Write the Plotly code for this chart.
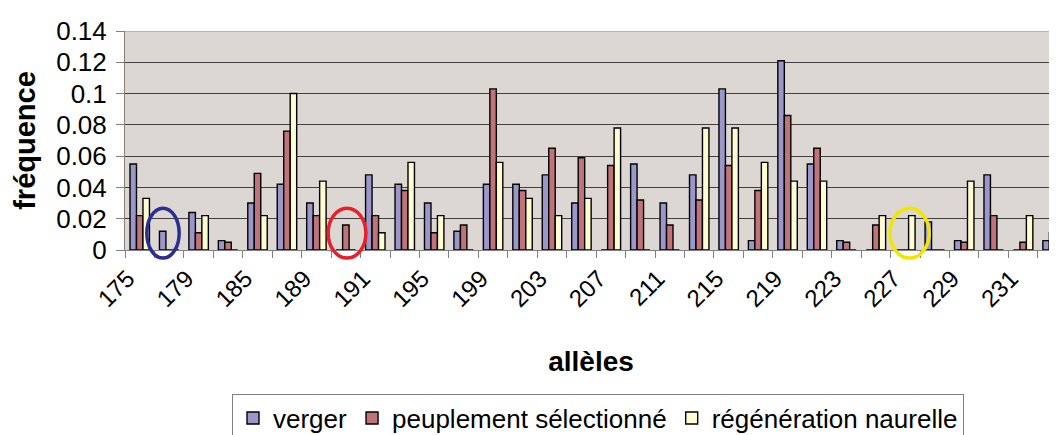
import plotly.graph_objects as go

alleles = ["175", "177", "179", "183", "185", "187", "189", "190", "191", "193",
           "195", "197", "199", "201", "203", "205", "207", "209", "211", "213",
           "215", "217", "219", "221", "223", "225", "227", "228", "229", "230",
           "231", "233"]

verger = [0.055, 0.012, 0.024, 0.006, 0.030, 0.042, 0.030, 0.0, 0.048, 0.042,
          0.030, 0.012, 0.042, 0.042, 0.048, 0.030, 0.0, 0.055, 0.030, 0.048,
          0.103, 0.006, 0.121, 0.055, 0.006, 0.0, 0.0, 0.018, 0.006, 0.048,
          0.0, 0.006]
peuplement = [0.022, 0.0, 0.011, 0.005, 0.049, 0.076, 0.022, 0.016, 0.022, 0.038,
              0.011, 0.016, 0.103, 0.038, 0.065, 0.059, 0.054, 0.032, 0.016, 0.032,
              0.054, 0.038, 0.086, 0.065, 0.005, 0.016, 0.0, 0.0, 0.005, 0.022,
              0.005, 0.011]
regeneration = [0.033, 0.0, 0.022, 0.0, 0.022, 0.100, 0.044, 0.0, 0.011, 0.056,
                0.022, 0.0, 0.056, 0.033, 0.022, 0.033, 0.078, 0.0, 0.0, 0.078,
                0.078, 0.056, 0.044, 0.044, 0.0, 0.022, 0.022, 0.0, 0.044, 0.0,
                0.022, 0.0]

# only every other allele gets a label
tick_text = [a if i % 2 == 0 else "" for i, a in enumerate(alleles)]

FONT = "Liberation Sans, Arial, sans-serif"

fig = go.Figure()
for name, vals, col in [("verger", verger, "#9b97cb"),
                        ("peuplement sélectionné", peuplement, "#c07379"),
                        ("régénération naurelle", regeneration, "#fffcd2")]:
    fig.add_trace(go.Bar(x=alleles, y=vals, name=name,
                         marker=dict(color=col, line=dict(color="black", width=1.4))))

# circled bars
for x0, x1, col in [(0.24, 1.34, "#2b2f8f"), (6.40, 7.68, "#e8202a"), (25.48, 26.81, "#f2e600")]:
    fig.add_shape(type="circle", xref="x", yref="paper", x0=x0, x1=x1,
                  y0=-0.037, y1=0.191, line=dict(color=col, width=3.5))

# light top border of the plot area
fig.add_shape(type="line", xref="paper", yref="y", x0=0, x1=1, y0=0.14, y1=0.14,
              line=dict(color="#b4b4b4", width=2))

# page body adds an 8px left offset, so the figure is 8px narrower
fig.update_layout(
    width=1049, height=435,
    margin=dict(l=117, r=0, t=23, b=185),
    paper_bgcolor="white", plot_bgcolor="#ddd7d4",
    font=dict(family=FONT, size=24, color="black"),
    barmode="group", bargap=0.34, bargroupgap=0,
    legend=dict(orientation="h", x=0.1148, y=-0.656, xanchor="left", yanchor="top",
                bordercolor="#808080", borderwidth=1, bgcolor="white",
                font=dict(size=26), traceorder="normal"),
)

fig.update_xaxes(type="category", tickmode="array", tickvals=alleles, ticktext=tick_text,
                 tickson="boundaries", ticks="outside", ticklen=7, tickcolor="#808080",
                 tickangle=-45, tickfont=dict(size=24),
                 ticklabelshift=-12, ticklabelstandoff=4, automargin=False,
                 showline=True, linecolor="#808080", linewidth=1,
                 range=[-0.5, 31.15], showgrid=False,
                 title=dict(text="allèles", font=dict(size=28, weight="bold"), standoff=40))
fig.update_yaxes(range=[0, 0.14], dtick=0.02, ticks="outside", ticklen=8, tickcolor="#808080",
                 tickfont=dict(size=26), showline=True, linecolor="#808080", linewidth=1,
                 showgrid=True, gridcolor="#404040", gridwidth=1, zeroline=False,
                 automargin=False, ticklabelstandoff=4,
                 title=dict(text="fréquence", font=dict(size=29, weight="bold"), standoff=12))

fig.write_html("out.html")
